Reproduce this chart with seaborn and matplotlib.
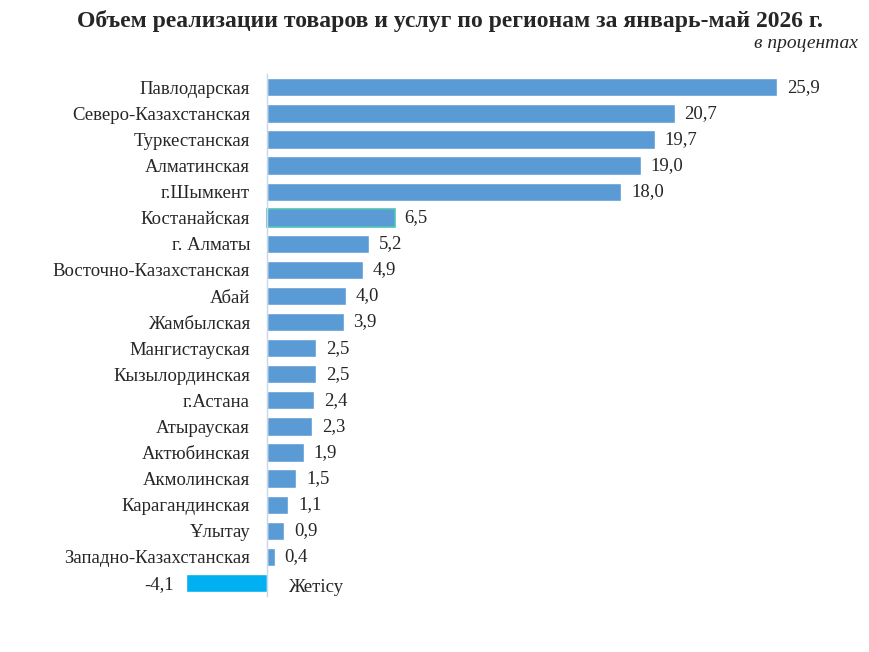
import numpy as np
import pandas as pd
import seaborn as sns
import matplotlib.pyplot as plt

# Данные по регионам (в процентах)
regions = ["Павлодарская", "Северо-Казахстанская", "Туркестанская", "Алматинская",
           "г.Шымкент", "Костанайская", "г. Алматы", "Восточно-Казахстанская", "Абай",
           "Жамбылская", "Мангистауская", "Кызылординская", "г.Астана", "Атырауская",
           "Актюбинская", "Акмолинская", "Карагандинская", "Ұлытау",
           "Западно-Казахстанская", "Жетісу"]
values = [25.9, 20.7, 19.7, 19.0, 18.0, 6.5, 5.2, 4.9, 4.0, 3.9,
          2.5, 2.5, 2.4, 2.3, 1.9, 1.5, 1.1, 0.9, 0.4, -4.1]

base_color = "#5B9BD5"
neg_color = "#00B0F0"
colors = [neg_color if v < 0 else base_color for v in values]

df = pd.DataFrame({"Регион": regions, "Значение": values})

sns.set_style("white")
plt.rcParams["font.family"] = ["Liberation Serif", "DejaVu Serif"]
fs = 13.5

fig = plt.figure(figsize=(8.69, 6.52), dpi=100)
ax = fig.add_axes([0.214, 0.086, 0.705, 0.80])

sns.barplot(data=df, x="Значение", y="Регион", hue="Регион", palette=colors,
            legend=False, width=0.7, orient="h", ax=ax, saturation=1)

# рамка у Костанайской
ax.patches[regions.index("Костанайская")].set_edgecolor("#4FC3B5")
ax.patches[regions.index("Костанайская")].set_linewidth(1.2)

ax.set_xlim(-4.1, 27)
ax.set_ylim(len(regions) - 0.5, -0.5)
ax.set_xlabel("")
ax.set_ylabel("")
ax.set_xticks([])

for s in ["top", "right", "bottom"]:
    ax.spines[s].set_visible(False)
ax.spines["left"].set_position(("data", 0))
ax.spines["left"].set_color("#C9D7EA")
ax.spines["left"].set_linewidth(1)

ax.set_yticks(range(len(regions)))
ax.set_yticklabels([r if v >= 0 else "" for r, v in zip(regions, values)], fontsize=fs)
ax.tick_params(axis="y", which="major", length=0, pad=12)
ax.set_yticks(np.arange(-0.5, len(regions), 1), minor=True)
ax.tick_params(axis="y", which="minor", length=4, color="#C9D7EA", direction="out")

# подписи значений
for i, v in enumerate(values):
    txt = f"{v:.1f}".replace(".", ",")
    if v >= 0:
        ax.annotate(txt, (v, i), xytext=(7, 0), textcoords="offset points",
                    ha="left", va="center", fontsize=fs)
    else:
        ax.annotate(txt, (v, i), xytext=(-9, -1), textcoords="offset points",
                    ha="right", va="center", fontsize=fs)
        ax.annotate(regions[i], (0, i), xytext=(15, -3), textcoords="offset points",
                    ha="left", va="center", fontsize=fs)

fig.text(0.518, 0.968, "Объем реализации товаров и услуг по регионам за январь-май 2026 г.",
         ha="center", va="center", fontsize=17, fontweight="bold")
fig.text(0.987, 0.933, "в процентах", ha="right", va="center", fontsize=14,
         fontstyle="italic")

fig.savefig("out.png", dpi=100)
